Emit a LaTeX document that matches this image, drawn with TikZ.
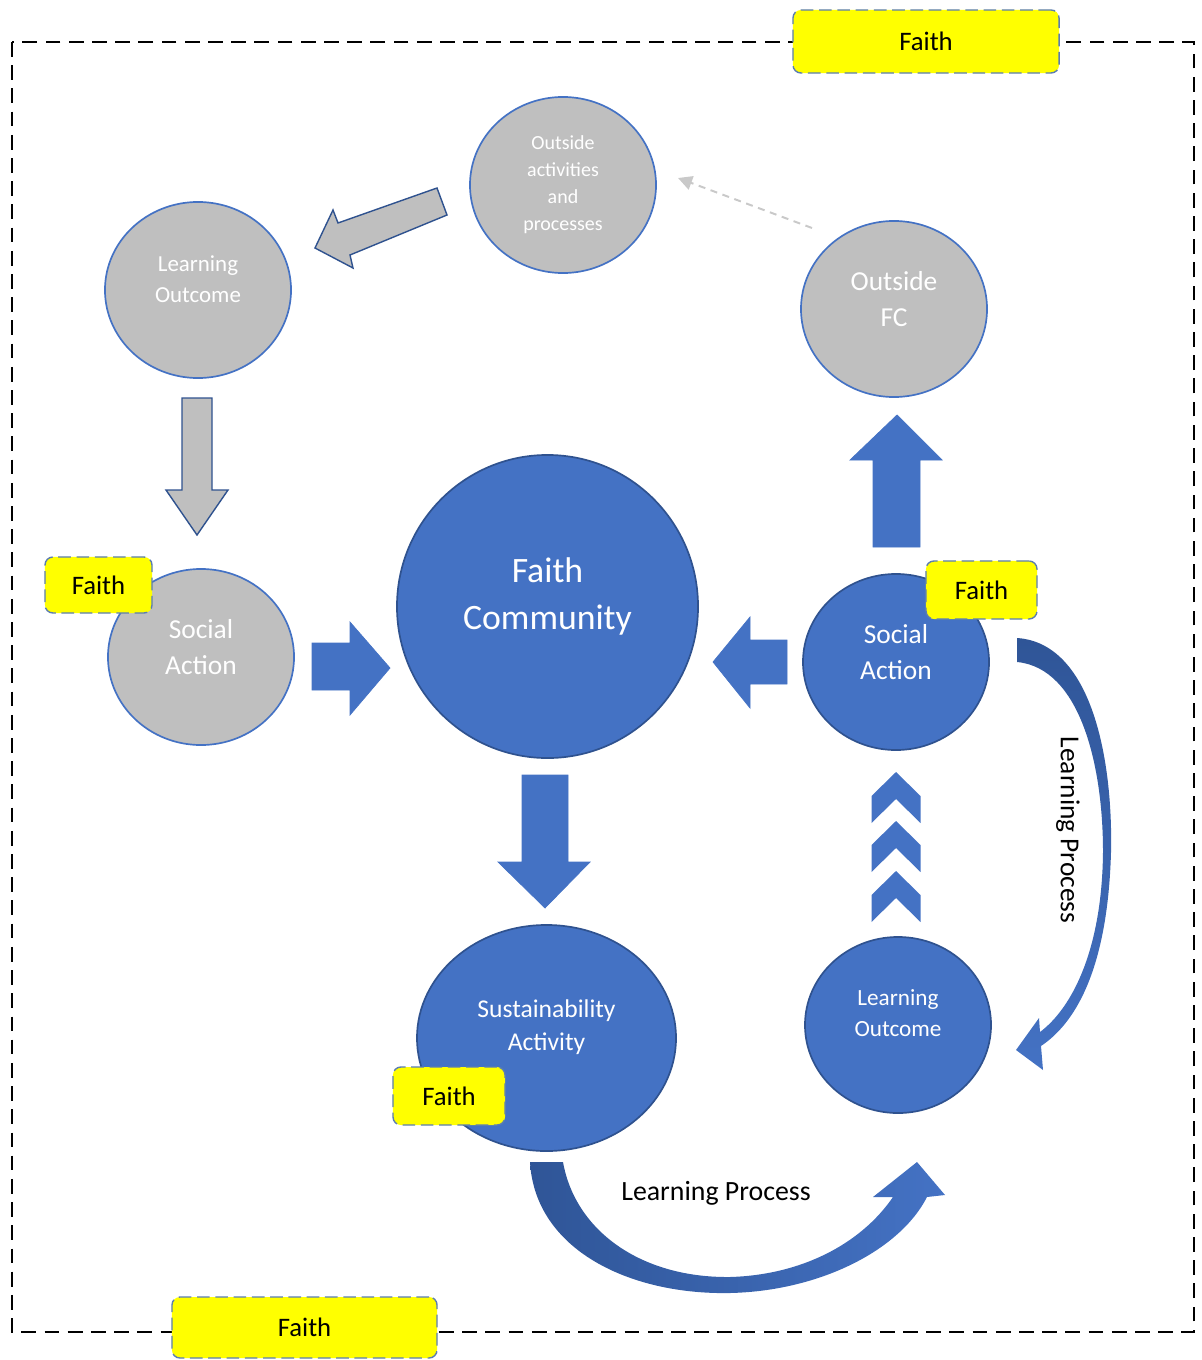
\documentclass[tikz,border=0pt]{standalone}
\usepackage{fontspec}
\setmainfont{Carlito}
\usetikzlibrary{shapes.geometric,arrows.meta}
\definecolor{fcblue}{HTML}{4472C4}
\definecolor{fcdark}{HTML}{2F528F}
\definecolor{fcshade}{HTML}{2F5597}
\definecolor{fcgray}{HTML}{BFBFBF}
\definecolor{fcyellow}{HTML}{FFFF00}
\definecolor{fcline}{HTML}{5B7DB1}
\begin{document}
\begin{tikzpicture}[x=0.025cm, y=-0.025cm,
  circ/.style={ellipse, line width=1.2pt, minimum width=4.65cm, minimum height=4.4cm, inner sep=0pt},
  graycirc/.style={circ, fill=fcgray, draw=fcblue},
  bluecirc/.style={circ, fill=fcblue, draw=fcdark},
  ctext/.style={text=white, align=center, inner sep=0pt},
  faithbox/.style={rectangle, rounded corners=0.2cm, fill=fcyellow, draw=fcline, line width=1pt, dash pattern=on 9pt off 4pt, text=black, font=\fontsize{19}{23}\selectfont},
  bluearrow/.style={fill=fcblue, draw=fcblue, line width=0.5pt},
  grayarrow/.style={fill=fcgray, draw=fcdark, line width=1pt}]
\useasboundingbox (0,0) rectangle (1202,1360);

% Рамка
\draw[line width=1.4pt, dash pattern=on 10.5pt off 6pt] (12,42) rectangle (1194,1332);

% Серые круги
\node[graycirc] (oap) at (563,185) {};
\node[ctext, font=\fontsize{14.2}{19.2}\selectfont] (oap-text) at (oap) {Outside\\activities\\and\\processes};
\node[graycirc] (lo-gray) at (198,290) {};
\node[ctext, font=\fontsize{16.3}{22.5}\selectfont] (lo-gray-text) at ([yshift=0.27cm]lo-gray.center) {Learning\\Outcome};
\node[graycirc] (ofc) at (894,309) {};
\node[ctext, font=\fontsize{19.5}{25.6}\selectfont] (ofc-text) at ([yshift=0.25cm]ofc.center) {Outside\\FC};
\node[graycirc] (sa-gray) at (201,657) {};
\node[ctext, font=\fontsize{19.5}{26}\selectfont] (sa-gray-text) at ([yshift=0.25cm]sa-gray.center) {Social\\Action};

% Синие круги
\node[bluecirc, minimum width=7.525cm, minimum height=7.575cm] (fc) at (547.5,606.5) {};
\node[ctext, font=\fontsize{25.4}{33.4}\selectfont] (fc-text) at ([yshift=0.25cm]fc.center) {Faith\\Community};
\node[bluecirc] (sa-blue) at (896,662) {};
\node[ctext, font=\fontsize{19.5}{26}\selectfont] (sa-blue-text) at ([yshift=0.25cm]sa-blue.center) {Social\\Action};
\node[bluecirc, minimum width=6.475cm, minimum height=5.65cm] (sust) at (546.5,1038) {};
\node[ctext, font=\fontsize{18.2}{24}\selectfont] (sust-text) at ([yshift=0.27cm]sust.center) {Sustainability\\Activity};
\node[bluecirc] (lo-blue) at (898,1025) {};
\node[ctext, font=\fontsize{16.5}{21.5}\selectfont] (lo-blue-text) at ([yshift=0.3cm]lo-blue.center) {Learning\\Outcome};

% Серые стрелки
\draw[grayarrow] (437,188) -- (447,215) -- (350,255) -- (353,268) -- (315,248) -- (333,210) -- (338,223) -- cycle;
\draw[grayarrow] (182,398) -- (212,398) -- (212,490) -- (228,490) -- (197,535) -- (166,490) -- (182,490) -- cycle;

% Пунктирная стрелка
\coordinate (dash-start) at (812,228);
\coordinate (dash-end) at (678,178);
\draw[draw=fcgray!85, line width=1.4pt, dash pattern=on 5pt off 4pt, -{Triangle[length=10pt, width=10pt]}] (dash-start) -- (dash-end);

% Синие стрелки
\draw[bluearrow] (312,643) -- (350,643) -- (350,622) -- (390,668) -- (350,715) -- (350,690) -- (312,690) -- cycle;
\draw[bluearrow] (787,640) -- (750,640) -- (750,617) -- (713,662) -- (750,708) -- (750,684) -- (787,684) -- cycle;
\draw[bluearrow] (522,775) -- (568,775) -- (568,862) -- (590,862) -- (545,908) -- (498,862) -- (522,862) -- cycle;
\draw[bluearrow] (873,547) -- (920,547) -- (920,460) -- (942,460) -- (897,415) -- (850,460) -- (873,460) -- cycle;
\foreach \y in {772,821,871}
  \fill[fcblue] (896,\y) -- (920.5,\y+24) -- (920.5,\y+51) -- (896,\y+27) -- (871.5,\y+51) -- (871.5,\y+24) -- cycle;

% Изогнутые стрелки
\shade[top color=fcshade, bottom color=fcblue]
  (1017,638) .. controls (1092,643) and (1113,760) .. (1111,852)
  .. controls (1108,960) and (1080,1020) .. (1041,1046)
  -- (1043,1070) -- (1016,1050) -- (1039,1018) -- (1040,1032)
  .. controls (1072,1008) and (1102,950) .. (1103,852)
  .. controls (1103,765) and (1080,668) .. (1017,662) -- cycle;
\node[rotate=-90, font=\fontsize{19.5}{23}\selectfont] (lp-right) at (1068,830) {Learning Process};

\shade[left color=fcshade, right color=fcblue]
  (530,1162) .. controls (535,1250) and (630,1295) .. (730,1293)
  .. controls (820,1291) and (900,1250) .. (927,1197)
  -- (945,1195) -- (917,1162) -- (873,1197) -- (893,1197)
  .. controls (860,1245) and (800,1275) .. (730,1277)
  .. controls (640,1278) and (575,1230) .. (563,1162) -- cycle;
\node[font=\fontsize{19.8}{23}\selectfont] (lp-bottom) at (716,1193) {Learning Process};

% Метки Faith
\node[faithbox, minimum width=6.65cm, minimum height=1.575cm] (faith-top) at (926,41.5) {Faith};
\node[faithbox, minimum width=6.625cm, minimum height=1.525cm] (faith-bottom) at (304.5,1327.5) {Faith};
\node[faithbox, minimum width=2.675cm, minimum height=1.4cm] (faith-left) at (98.5,585) {Faith};
\node[faithbox, minimum width=2.775cm, minimum height=1.45cm] (faith-right) at (981.5,590) {Faith};
\node[faithbox, minimum width=2.8cm, minimum height=1.45cm] (faith-sust) at (449,1096) {Faith};

\end{tikzpicture}
\end{document}
